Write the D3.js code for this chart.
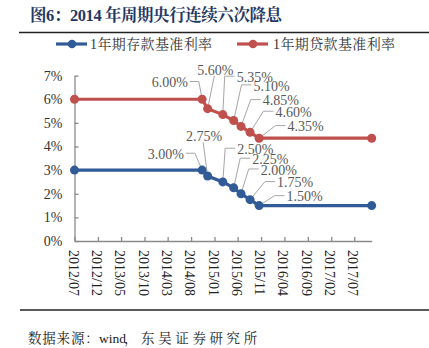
<!DOCTYPE html>
<html>
<head>
<meta charset="utf-8">
<script src="https://cdn.jsdelivr.net/npm/d3@7"></script>
<style>
  body { margin: 0; background: #fff; }
  svg { display: block; }
</style>
</head>
<body>
<svg id="chart" width="429" height="348"></svg>
<script>
// values
const dates = ["2012/07/06", "2014/10/17", "2014/11/22", "2015/03/01", "2015/05/11",
               "2015/06/28", "2015/08/26", "2015/10/24", "2017/10/28"];
const depositRate = [3.00, 3.00, 2.75, 2.50, 2.25, 2.00, 1.75, 1.50, 1.50];
const loanRate    = [6.00, 6.00, 5.60, 5.35, 5.10, 4.85, 4.60, 4.35, 4.35];
const xTickLabels = ["2012/07", "2012/12", "2013/05", "2013/10", "2014/03", "2014/08",
                     "2015/01", "2015/06", "2015/11", "2016/04", "2016/09", "2017/02", "2017/07"];
const yTicks = [0, 1, 2, 3, 4, 5, 6, 7];
const seriesNames = ["1年期存款基准利率", "1年期贷款基准利率"];

// label placement (pixel offsets of label centre from its point), points 1..7
const loanLabelPos = [[-32.4, -16.7], [7.7, -38.8], [32, -37.4], [37.9, -34.6],
                      [39.8, -25.8], [43.5, -20.1], [46.5, -11.6]];
const depositLabelPos = [[-36.3, -15.9], [-3.5, -39.8], [32.5, -32.7], [36.6, -28.6],
                         [37.8, -23.8], [45, -17], [45.5, -8.9]];

const blue = "#315b97", red = "#c0504d";
const serif = "'Liberation Serif', 'Times New Roman', 'Noto Serif CJK SC', 'Noto Sans CJK SC', serif";

const svg = d3.select("#chart");
const parse = d3.timeParse("%Y/%m/%d");
const dd = dates.map(parse);

let x = d3.scaleTime()
    .domain([dd[0], dd[dd.length - 1]])
    .range([74.5, 371.7]);
let y = d3.scaleLinear()
    .domain([0, 7])
    .range([241, 75.6]);

// title + rules
svg.append("text")
    .attr("x", 30).attr("y", 21)
    .attr("font-family", serif).attr("font-size", 16.5).attr("font-weight", "bold")
    .attr("fill", "#1f3864")
    .attr("textLength", 252).attr("lengthAdjust", "spacing")
    .text("图6：2014 年周期央行连续六次降息");
svg.append("line").attr("x1", 19).attr("x2", 429).attr("y1", 32.5).attr("y2", 32.5)
    .attr("stroke", "#222").attr("stroke-width", 1.6);
svg.append("line").attr("x1", 20).attr("x2", 429).attr("y1", 310).attr("y2", 310)
    .attr("stroke", "#222").attr("stroke-width", 1.4);
let src = svg.append("text")
    .attr("y", 343)
    .attr("font-family", serif).attr("font-size", 13.5).attr("fill", "#222");
src.append("tspan").attr("x", 28).attr("letter-spacing", 0.8).text("数据来源：");
src.append("tspan").attr("x", 99).text("wind");
src.append("tspan").attr("x", 124).attr("letter-spacing", 3.6).text("，东吴证券研究所");

// legend
let legend = svg.append("g");
[[56, blue, seriesNames[0], 90], [237, red, seriesNames[1], 273]].forEach(l => {
  legend.append("line").attr("x1", l[0]).attr("x2", l[0] + 31).attr("y1", 44).attr("y2", 44)
      .attr("stroke", l[1]).attr("stroke-width", 3.2);
  legend.append("circle").attr("cx", l[0] + 16).attr("cy", 44).attr("r", 4.3).attr("fill", l[1]);
  legend.append("text").attr("x", l[3]).attr("y", 49)
      .attr("font-family", serif).attr("font-size", 14).attr("fill", "#333")
      .attr("textLength", 122).attr("lengthAdjust", "spacing")
      .text(l[2]);
});

// axes
let yAxis = d3.axisLeft(y)
    .tickValues(yTicks)
    .tickSizeInner(-4)
    .tickSizeOuter(0)
    .tickPadding(12)
    .tickFormat(d => d + "%");
let gy = svg.append("g").attr("transform", "translate(74.5,0)").call(yAxis);
gy.selectAll("text").attr("font-family", serif).attr("font-size", 14).attr("fill", "#333");

let tickDates = xTickLabels.map(s => parse(s + "/06"));
let xAxis = d3.axisBottom(x)
    .tickValues(tickDates)
    .tickSizeInner(-4)
    .tickSizeOuter(0)
    .tickFormat((d, i) => xTickLabels[i]);
let gx = svg.append("g").attr("transform", "translate(0,241)").call(xAxis);
gx.selectAll("text")
    .attr("transform", "rotate(90)")
    .attr("x", 9).attr("y", 1.5).attr("dy", "0.35em")
    .attr("text-anchor", "start")
    .attr("font-family", serif).attr("font-size", 14).attr("fill", "#222");

svg.selectAll(".domain, .tick line").attr("stroke", "#8a8a8a").attr("stroke-width", 1.3);

// leader lines + labels
let labels = svg.append("g");
function addLabels(values, pos) {
  pos.forEach((p, k) => {
    let i = k + 1;
    let px = x(dd[i]), py = y(values[i]);
    let tx = px + p[0], ty = py + p[1];
    let t = labels.append("text")
        .attr("x", tx).attr("y", ty).attr("dy", "0.33em")
        .attr("text-anchor", "middle")
        .attr("font-family", serif).attr("font-size", 14).attr("fill", "#595959")
        .text(values[i].toFixed(2) + "%");
    let w = t.node().getComputedTextLength();
    let pts;
    if (p[0] < -10) {
      let sx = tx + w / 2 + 2;
      pts = [[sx, ty - 1], [sx + 9, ty - 1], [px, py]];
    } else if (p[0] > 10) {
      let sx = tx - w / 2 - 2;
      let ex = Math.max(px + 1.5, sx - 10);
      pts = [[sx, ty - 1], [ex, ty - 1], [px, py]];
    } else {
      pts = [[tx - 1, ty + 6], [px, py]];
    }
    labels.insert("path", ":first-child")
        .attr("d", d3.line()(pts))
        .attr("fill", "none").attr("stroke", "#a6a6a6").attr("stroke-width", 1);
  });
}
addLabels(loanRate, loanLabelPos);
addLabels(depositRate, depositLabelPos);

// series
let line = d3.line().x((d, i) => x(dd[i])).y(d => y(d));
[[loanRate, red], [depositRate, blue]].forEach(s => {
  svg.append("path").datum(s[0])
      .attr("d", line)
      .attr("fill", "none").attr("stroke", s[1]).attr("stroke-width", 3.2);
  svg.append("g").selectAll("circle").data(s[0]).enter().append("circle")
      .attr("cx", (d, i) => x(dd[i]))
      .attr("cy", d => y(d))
      .attr("r", 4.5)
      .attr("fill", s[1]);
});
</script>
</body>
</html>
